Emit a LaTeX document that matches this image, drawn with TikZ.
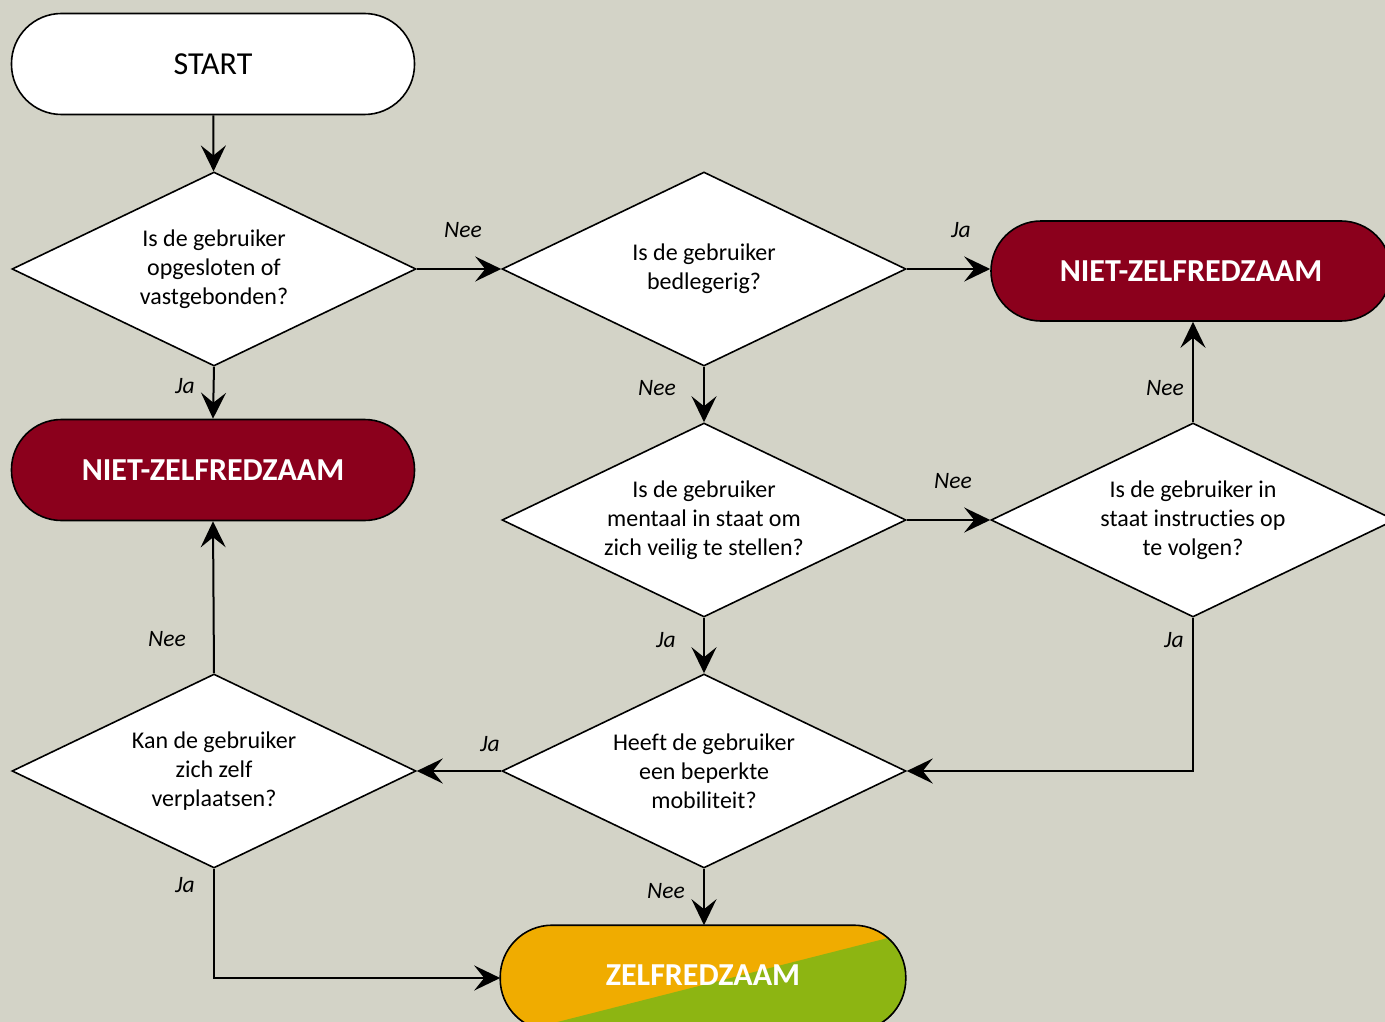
\documentclass[tikz,border=0pt]{standalone}
\usepackage{fontspec}
\setmainfont{Carlito}[Ligatures=NoCommon]
\usetikzlibrary{shapes.geometric,arrows.meta}
\definecolor{bgc}{RGB}{211,211,199}
\definecolor{darkred}{RGB}{139,0,28}
\definecolor{zorange}{RGB}{240,172,0}
\definecolor{zgreen}{RGB}{141,181,18}
\tikzset{
  decision/.style={diamond,aspect=2.08,draw=black,line width=1.6pt,fill=white,minimum width=404pt,minimum height=194pt,inner sep=0pt,align=center,font=\fontsize{24}{29}\selectfont},
  terminal/.style={rectangle,rounded corners=50pt,draw=black,line width=1.6pt,minimum width=403pt,minimum height=101pt,inner sep=0pt},
  redterm/.style={terminal,fill=darkred,text=white,font=\fontsize{32}{36}\selectfont\bfseries},
  flow/.style={line width=2pt,-{Stealth[length=26pt,width=25pt,inset=10pt]}},
  lab/.style={font=\fontsize{23.5}{27}\selectfont\itshape,inner sep=0pt}
}
\begin{document}
\begin{tikzpicture}[x=1pt,y=-1pt]
\useasboundingbox (0,0) rectangle (1385,1022);
\fill[bgc] (0,0) rectangle (1385,1022);

\node[terminal,fill=white,font=\fontsize{32}{36}\selectfont] (start) at (213,64) {START};
\node[decision] (d1) at (214,269) {Is de gebruiker\\opgesloten of\\vastgebonden?};
\node[decision] (d2) at (704,269) {Is de gebruiker\\bedlegerig?};
\node[redterm,minimum width=400pt,minimum height=100pt] (n1) at (1191,271) {NIET-ZELFREDZAAM};
\node[redterm] (n2) at (213,470) {NIET-ZELFREDZAAM};
\node[decision] (d3) at (704,520) {Is de gebruiker\\mentaal in staat om\\zich veilig te stellen?};
\node[decision] (d4) at (1193,520) {Is de gebruiker in\\staat instructies op\\te volgen?};
\node[decision] (d5) at (704,771) {Heeft de gebruiker\\een beperkte\\mobiliteit?};
\node[decision] (d6) at (214,771) {Kan de gebruiker\\zich zelf\\verplaatsen?};

% ZELFREDZAAM with diagonal two-colour fill
\node[terminal,minimum width=404pt,minimum height=104pt] (z) at (703,978) {};
\begin{scope}
  \clip[rounded corners=52pt] (z.south west) rectangle (z.north east);
  \fill[zorange] (z.south west) rectangle (z.north east);
  \fill[zgreen] (400,1062) -- (1000,909.5) -- (1000,1100) -- (400,1100) -- cycle;
\end{scope}
\draw[line width=1.6pt,rounded corners=52pt] (z.south west) rectangle (z.north east);
\node[text=white,font=\fontsize{32}{36}\selectfont\bfseries] (zt) at (703,975) {ZELFREDZAAM};

% connectors
\draw[flow] (start) -- (d1);
\draw[flow] (d1.east) -- (d2.west);
\draw[flow] (d2.east) -- (n1.west |- d2.east);
\draw[flow] (d1.south) -- (n2.north);
\draw[flow] (d2.south) -- (d3.north);
\draw[flow] (d3.east) -- (d4.west);
\draw[flow] (d4.north) -- (n1.south -| d4.north);
\draw[flow] (d3.south) -- (d5.north);
\draw[flow] (d4.south) |- (d5.east);
\draw[flow] (d5.west) -- (d6.east);
\draw[flow] (d6.north) -- (n2.south);
\draw[flow] (d5.south) -- (z.north -| d5.south);
\draw[flow] (d6.south) |- (z.west);

% labels
\node[lab] (l1) at (463,230) {Nee};
\node[lab] (l2) at (961,230) {Ja};
\node[lab] (l3) at (185,386) {Ja};
\node[lab] (l4) at (657,388) {Nee};
\node[lab] (l5) at (1165,388) {Nee};
\node[lab] (l6) at (953,481) {Nee};
\node[lab] (l7) at (666,640) {Ja};
\node[lab] (l8) at (1174,640) {Ja};
\node[lab] (l9) at (490,744) {Ja};
\node[lab] (l10) at (167,639) {Nee};
\node[lab] (l11) at (666,891) {Nee};
\node[lab] (l12) at (185,885) {Ja};
\end{tikzpicture}
\end{document}
